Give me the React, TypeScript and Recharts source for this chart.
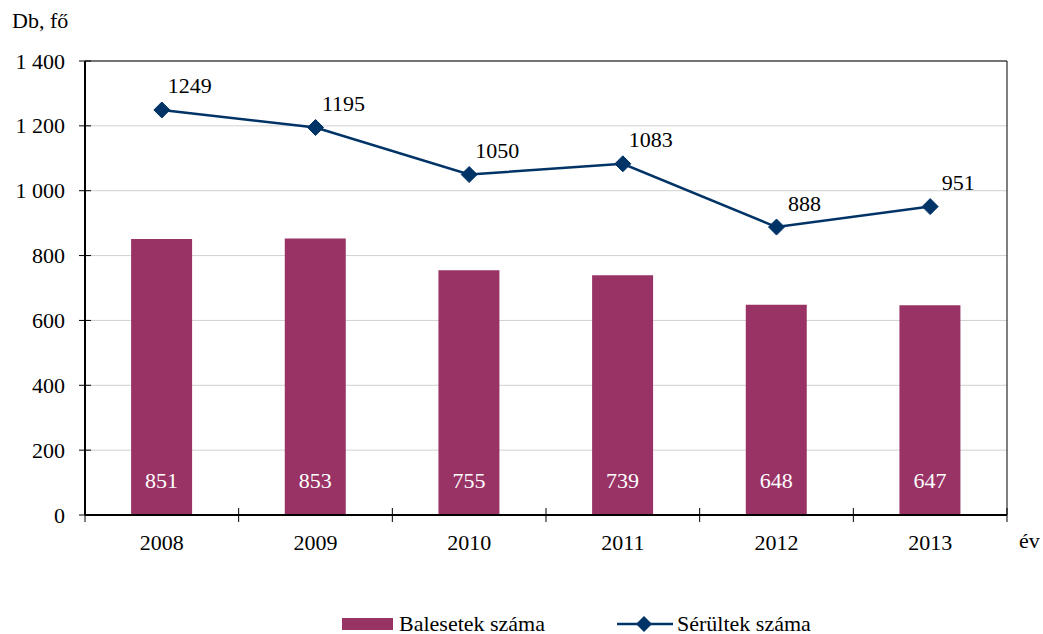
import React from "react";
import {
  ComposedChart,
  Bar,
  Line,
  XAxis,
  YAxis,
  CartesianGrid,
  LabelList,
  ReferenceArea,
} from "recharts";

const years = ["2008", "2009", "2010", "2011", "2012", "2013"];
const balesetek = [851, 853, 755, 739, 648, 647];
const serultek = [1249, 1195, 1050, 1083, 888, 951];
const yTicks = [0, 200, 400, 600, 800, 1000, 1200, 1400];

const data = years.map((y, i) => ({ year: y, balesetek: balesetek[i], serultek: serultek[i] }));

const W = 1043;
const H = 634;
const PLOT_LEFT = 85;
const PLOT_RIGHT = 1007;
const PLOT_TOP = 61;
const PLOT_BOTTOM = 515;
const BAND = (PLOT_RIGHT - PLOT_LEFT) / years.length;

const FONT = "'Liberation Serif', serif";
const FS = 22;
const BAR_COLOR = "#993366";
const LINE_COLOR = "#003366";

const fmt = (v: number) => String(v).replace(/\B(?=(\d{3})+(?!\d))/g, " ");

const YTick = (props: any) => {
  const { y, payload } = props;
  return (
    <g>
      <line x1={PLOT_LEFT - 6} x2={PLOT_LEFT + 6} y1={y} y2={y} stroke="#000" strokeWidth={1} />
      <text x={PLOT_LEFT - 20} y={y} textAnchor="end" dominantBaseline="central" style={{ fontFamily: FONT }} fontSize={FS} fill="#000">
        {fmt(payload.value)}
      </text>
    </g>
  );
};

const XTick = (props: any) => {
  const { x, payload, index } = props;
  const left = x - BAND / 2;
  const right = x + BAND / 2;
  return (
    <g>
      <line x1={left} x2={left} y1={PLOT_BOTTOM - 7} y2={PLOT_BOTTOM + 7} stroke="#000" strokeWidth={1} />
      {index === years.length - 1 && (
        <line x1={right} x2={right} y1={PLOT_BOTTOM - 7} y2={PLOT_BOTTOM + 7} stroke="#000" strokeWidth={1} />
      )}
      <text x={x} y={PLOT_BOTTOM + 27} textAnchor="middle" dominantBaseline="central" style={{ fontFamily: FONT }} fontSize={FS} fill="#000">
        {payload.value}
      </text>
    </g>
  );
};

const Diamond = (props: any) => {
  const { cx, cy } = props;
  if (cx == null || cy == null) return null;
  const r = 8;
  return (
    <polygon
      points={`${cx},${cy - r} ${cx + r},${cy} ${cx},${cy + r} ${cx - r},${cy}`}
      fill={LINE_COLOR}
      stroke={LINE_COLOR}
    />
  );
};

const BarLabel = (props: any) => {
  const { x, y, width, height, value } = props;
  return (
    <text
      x={x + width / 2}
      y={y + height - 35}
      textAnchor="middle"
      dominantBaseline="central"
      style={{ fontFamily: FONT }}
      fontSize={FS}
      fill="#ffffff"
    >
      {value}
    </text>
  );
};

const LineLabel = (props: any) => {
  const { x, y, value } = props;
  return (
    <text x={x + 28} y={y - 24} textAnchor="middle" dominantBaseline="central" style={{ fontFamily: FONT }} fontSize={FS} fill="#000">
      {value}
    </text>
  );
};

export default function App() {
  return (
    <div style={{ position: "absolute", left: 0, top: 0, width: W, height: H, background: "#fff", fontFamily: FONT }}>
      <div style={{ position: "absolute", left: 12, top: 9, fontSize: FS, lineHeight: "24px", color: "#000" }}>Db, fő</div>
      <div style={{ position: "absolute", left: 1019, top: 529, fontSize: FS, lineHeight: "24px", color: "#000" }}>év</div>
      <ComposedChart
        width={W}
        height={H}
        data={data}
        margin={{ top: PLOT_TOP, right: W - PLOT_RIGHT, left: 0, bottom: H - PLOT_BOTTOM - 40 }}
        barCategoryGap="30%"
      >
        <CartesianGrid horizontal vertical={false} stroke="#d0d0d0" strokeWidth={1} />
        <ReferenceArea y1={0} y2={1400} fill="none" stroke="#000" strokeWidth={1} ifOverflow="visible" />
        <XAxis
          dataKey="year"
          height={40}
          tickLine={false}
          axisLine={{ stroke: "#000", strokeWidth: 2 }}
          tick={<XTick />}
          interval={0}
        />
        <YAxis
          width={PLOT_LEFT}
          domain={[0, 1400]}
          ticks={yTicks}
          tickLine={false}
          axisLine={{ stroke: "#000", strokeWidth: 2 }}
          tick={<YTick />}
          interval={0}
        />
        <Bar dataKey="balesetek" fill={BAR_COLOR} isAnimationActive={false}>
          <LabelList dataKey="balesetek" content={<BarLabel />} />
        </Bar>
        <Line
          dataKey="serultek"
          stroke={LINE_COLOR}
          strokeWidth={2.5}
          dot={<Diamond />}
          activeDot={false}
          isAnimationActive={false}
        >
          <LabelList dataKey="serultek" content={<LineLabel />} />
        </Line>
      </ComposedChart>
      <div style={{ position: "absolute", left: 342, top: 614, height: 20, display: "flex", alignItems: "center", fontSize: FS, lineHeight: "20px", color: "#000" }}>
        <div style={{ width: 51, height: 12, background: BAR_COLOR, marginRight: 6 }} />
        <span>Balesetek száma</span>
      </div>
      <div style={{ position: "absolute", left: 617, top: 614, height: 20, display: "flex", alignItems: "center", fontSize: FS, lineHeight: "20px", color: "#000" }}>
        <svg width={56} height={20} style={{ marginRight: 4 }}>
          <line x1={0} x2={56} y1={10} y2={10} stroke={LINE_COLOR} strokeWidth={2.5} />
          <polygon points="27,2 35,10 27,18 19,10" fill={LINE_COLOR} />
        </svg>
        <span>Sérültek száma</span>
      </div>
    </div>
  );
}
